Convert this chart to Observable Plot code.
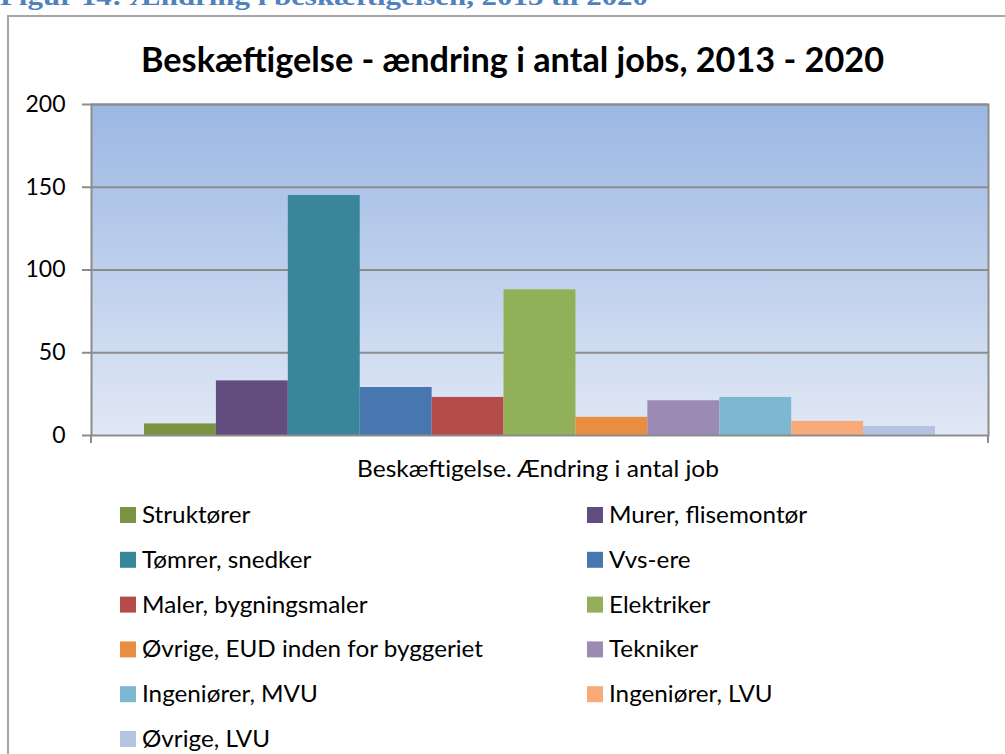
<!DOCTYPE html>
<html><head><meta charset="utf-8">
<script src="https://cdn.jsdelivr.net/npm/d3@7"></script>
<script src="https://cdn.jsdelivr.net/npm/@observablehq/plot@0.6"></script>
<style>
html,body{margin:0;padding:0;background:#fff;}
#wrap{position:relative;width:1005px;height:754px;overflow:hidden;background:#fff;}
#frame{position:absolute;left:7px;top:15px;width:1100px;height:1000px;border:2px solid #a6a6a6;box-sizing:border-box;}
#plot{position:absolute;left:0;top:0;}
#over{position:absolute;left:0;top:0;}
</style></head><body>
<div id="wrap"><div id="frame"></div><div id="plot"></div><svg id="over" width="1005" height="754"></svg></div>
<script>
const categories = ["Struktører","Murer, flisemontør","Tømrer, snedker","Vvs-ere","Maler, bygningsmaler","Elektriker","Øvrige, EUD inden for byggeriet","Tekniker","Ingeniører, MVU","Ingeniører, LVU","Øvrige, LVU"];
const values = [7,33,145,29,23,88,11,21,23,8.5,5.5];
const colors = ["#7a9443","#624d7e","#39869a","#4877b0","#b44c4a","#92b057","#e88d42","#9b8ab4","#7cb8cf","#f8aa79","#b4c3df"];
const yTicks = [0,50,100,150,200];
const captionText = "Figur 14: Ændring i beskæftigelsen, 2013 til 2020";
const titleText = "Beskæftigelse - ændring i antal jobs, 2013 - 2020";
const xLabel = "Beskæftigelse. Ændring i antal job";

const data = categories.map((c,i)=>({cat:c, value:values[i], color:colors[i]}));
const grid = "#8c8c8c";

const defsMark = () => {
  const g = d3.create("svg:g");
  const lg = g.append("defs").append("linearGradient").attr("id","bgGrad")
    .attr("x1",0).attr("y1",0).attr("x2",0).attr("y2",1);
  lg.append("stop").attr("offset","0%").attr("stop-color","#9bb7e3");
  lg.append("stop").attr("offset","100%").attr("stop-color","#e1e8f5");
  return g.node();
};
const endTicks = (index, scales, values, dims) => {
  const g = d3.create("svg:g").attr("stroke", grid).attr("stroke-width", 2);
  const y0 = scales.y(0);
  [dims.marginLeft, dims.width - dims.marginRight].forEach(x => {
    g.append("line").attr("x1",x).attr("x2",x).attr("y1",y0).attr("y2",y0+8);
  });
  return g.node();
};

const chart = Plot.plot({
  width:1005, height:470,
  marginLeft:91, marginRight:17, marginTop:104, marginBottom:35,
  style:{fontFamily:"Lato", fontSize:"22px", color:"#000", background:"transparent", overflow:"visible"},
  x:{domain:categories, padding:0, round:false, insetLeft:53, insetRight:53, axis:null},
  y:{domain:[0,200]},
  marks:[
    defsMark,
    Plot.frame({fill:"url(#bgGrad)", stroke:"none"}),
    Plot.ruleY(yTicks.slice(1), {stroke:grid, strokeWidth:2}),
    Plot.barY(data, {x:"cat", y:"value", fill:"color"}),
    Plot.axisY({ticks:yTicks, tickSize:9, stroke:grid, strokeWidth:2, fill:"none", label:null}),
    Plot.axisY({ticks:yTicks, tickSize:0, tickPadding:26, stroke:"none", fill:"#000", label:null, fontSize:23, tickFormat:d=>String(d)}),
    Plot.frame({stroke:grid, strokeWidth:2}),
    endTicks
  ]
});
document.getElementById("plot").appendChild(chart);

const over = d3.select("#over");
over.append("text").attr("x",0).attr("y",5).attr("font-family","Liberation Serif").attr("font-weight","bold")
  .attr("font-size",26).attr("fill","#4f81bd").attr("textLength",648).attr("lengthAdjust","spacingAndGlyphs").text(captionText);
over.append("text").attr("x",141).attr("y",72).attr("font-family","Lato").attr("font-weight","bold")
  .attr("font-size",34).attr("fill","#000").attr("textLength",743).attr("lengthAdjust","spacingAndGlyphs").text(titleText);
over.append("text").attr("x",357).attr("y",477).attr("font-family","Lato")
  .attr("font-size",23.5).attr("fill","#000").attr("textLength",362).attr("lengthAdjust","spacingAndGlyphs").text(xLabel);

const legend = over.append("g").attr("font-family","Lato").attr("font-size",23.5).attr("fill","#000");
const colX = [120, 587];
const items = categories.map((c,i)=>{
  const row = Math.floor(i/2), col = i%2;
  const yb = 523 + row*44.8;
  legend.append("rect").attr("x",colX[col]).attr("y",yb-16).attr("width",16).attr("height",16).attr("fill",colors[i]);
  return legend.append("text").attr("x",colX[col]+22).attr("y",yb).text(c);
});
const ref = items[6].node().getComputedTextLength();
const k = 341/ref;
items.forEach(t => {
  const w = t.node().getComputedTextLength();
  t.attr("textLength", w*k).attr("lengthAdjust","spacingAndGlyphs");
});
</script>
</body></html>
